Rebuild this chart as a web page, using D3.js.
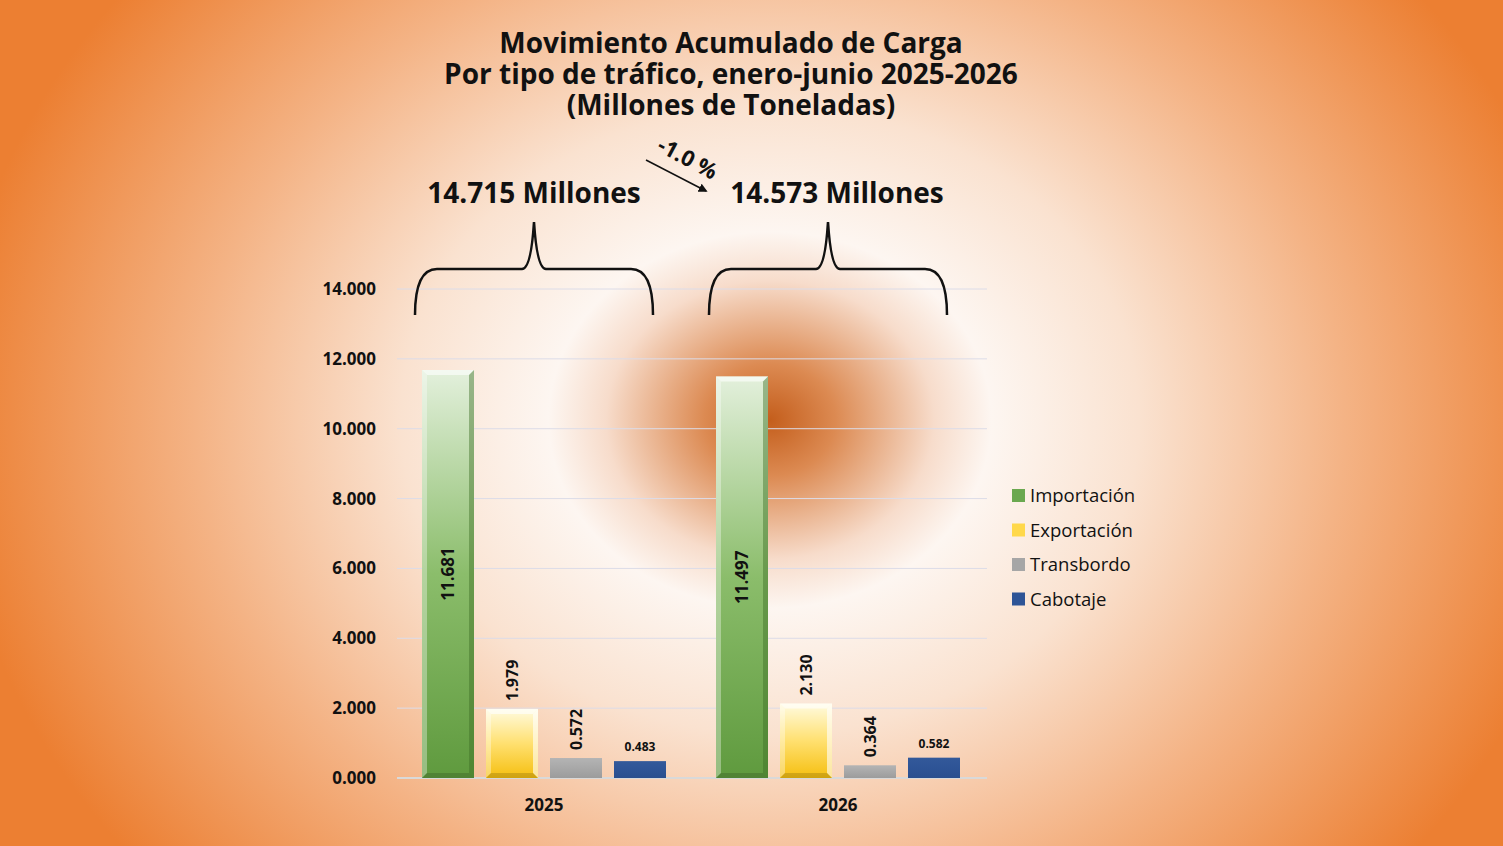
<!DOCTYPE html>
<html><head><meta charset="utf-8">
<script src="https://cdn.jsdelivr.net/npm/d3@7"></script>
<style>body{margin:0;overflow:hidden}svg{display:block;font-family:"Open Sans",sans-serif}</style>
</head><body><svg id="c" width="1503" height="846"></svg>
<script>
const years = ["2025","2026"];
const series = ["Importación","Exportación","Transbordo","Cabotaje"];
const imp = [11.681, 11.497];
const exp = [1.979, 2.130];
const tra = [0.572, 0.364];
const cab = [0.483, 0.582];
const totals = ["14.715 Millones","14.573 Millones"];
const change = "-1.0 %";
const yTicks = [0,2,4,6,8,10,12,14];
const values = [imp, exp, tra, cab];

const svg = d3.select("#c");
const defs = svg.append("defs");
const bg = defs.append("radialGradient").attr("id","bg").attr("gradientUnits","userSpaceOnUse")
  .attr("cx",770).attr("cy",420).attr("r",820).attr("gradientTransform","translate(770,420) scale(1,0.85) translate(-770,-420)");
[[0,"#c45e1c"],[0.08,"#dc8a52"],[0.2,"#f7dccb"],[0.27,"#fdf6f1"],[0.45,"#fae2d0"],[0.7,"#f4b385"],[1,"#ec7f32"]]
  .forEach(s=>bg.append("stop").attr("offset",s[0]).attr("stop-color",s[1]));
svg.append("rect").attr("width",1503).attr("height",846).attr("fill","url(#bg)");

const colors = [["#e3f0dc","#8bbd6b","#5f9a3e"],["#fffbe0","#ffe070","#f5bf10"],["#b4b4b4","#a8a8a8","#9c9c9c"],["#33599a","#2e5496","#2a4f8e"]];
colors.forEach((c,i)=>{
  const g=defs.append("linearGradient").attr("id","g"+i).attr("x1",0).attr("y1",0).attr("x2",0).attr("y2",1);
  g.append("stop").attr("offset",0).attr("stop-color",c[0]);
  g.append("stop").attr("offset",0.5).attr("stop-color",c[1]);
  g.append("stop").attr("offset",1).attr("stop-color",c[2]);
});

const y = d3.scaleLinear().domain([0,14]).range([778,289]);
const x0 = d3.scaleBand().domain(years).range([397,985]).padding(0);
const x1 = d3.scaleBand().domain(series).range([19,275]).paddingInner(0.1875).paddingOuter(0.09375);

const grid = svg.append("g");
yTicks.forEach(t=>grid.append("line").attr("x1",397).attr("x2",987).attr("y1",y(t)).attr("y2",y(t))
  .attr("stroke",t===0?"#d9d9d9":"#dcdce8").attr("stroke-width",t===0?2:1));
const ax = svg.append("g").attr("transform","translate(379,0)").call(d3.axisLeft(y).tickValues(yTicks).tickFormat(d3.format(".3f")).tickSize(0));
ax.select(".domain").remove();
ax.selectAll("text").attr("font-size",17).attr("font-weight","bold").attr("fill","#111").attr("font-family","Open Sans");
const xa = svg.append("g").attr("transform","translate(0,796)").call(d3.axisBottom(x0).tickSize(0));
xa.select(".domain").remove();
xa.selectAll("text").attr("font-size",17).attr("font-weight","bold").attr("fill","#111").attr("font-family","Open Sans");

years.forEach((yr,yi)=>{
  series.forEach((s,si)=>{
    const v=values[si][yi], bx=x0(yr)+x1(s), bw=x1.bandwidth(), top=y(v), bot=y(0), h=bot-top;
    const g=svg.append("g");
    g.append("rect").attr("x",bx).attr("y",top).attr("width",bw).attr("height",h).attr("fill","url(#g"+si+")");
    if(si<2){
      const e=5;
      g.append("polygon").attr("points",`${bx},${top} ${bx+bw},${top} ${bx+bw-e},${top+e} ${bx+e},${top+e}`).attr("fill","#fff").attr("opacity",0.6);
      g.append("polygon").attr("points",`${bx},${top} ${bx+e},${top+e} ${bx+e},${bot-e} ${bx},${bot}`).attr("fill","#fff").attr("opacity",0.35);
      g.append("polygon").attr("points",`${bx+bw},${top} ${bx+bw-e},${top+e} ${bx+bw-e},${bot-e} ${bx+bw},${bot}`).attr("fill",si===0?"#3f6e26":"#fff").attr("opacity",si===0?0.45:0.6);
      g.append("polygon").attr("points",`${bx},${bot} ${bx+e},${bot-e} ${bx+bw-e},${bot-e} ${bx+bw},${bot}`).attr("fill","#000").attr("opacity",0.15);
    }
    const cx=bx+bw/2, lab=d3.format(".3f")(v);
    if(si===0){
      svg.append("text").attr("transform",`translate(${cx+6},${(top+bot)/2}) rotate(-90)`).attr("text-anchor","middle")
        .attr("font-size",17).attr("font-weight","bold").attr("fill","#111").text(lab);
    } else if(si<3){
      svg.append("text").attr("transform",`translate(${cx+6},${top-8}) rotate(-90)`).attr("text-anchor","start")
        .attr("font-size",16).attr("font-weight","bold").attr("fill","#111").text(lab);
    } else {
      svg.append("text").attr("x",cx).attr("y",top-10).attr("text-anchor","middle")
        .attr("font-size",12).attr("font-weight","bold").attr("fill","#111").text(lab);
    }
  });
  // brace
  const L=x0(yr)+18, R=L+238, M=(L+R)/2;
  const p=d3.path();
  p.moveTo(L,315); p.quadraticCurveTo(L,269,L+22,269); p.lineTo(M-12,269);
  p.quadraticCurveTo(M-3,269,M,222); p.quadraticCurveTo(M+3,269,M+12,269);
  p.lineTo(R-22,269); p.quadraticCurveTo(R,269,R,315);
  svg.append("path").attr("d",p.toString()).attr("fill","none").attr("stroke","#111").attr("stroke-width",2.5);
  svg.append("text").attr("x",M).attr("dx",yi*9).attr("y",203).attr("text-anchor","middle").attr("font-size",28).attr("font-weight","bold").attr("fill","#111").text(totals[yi]);
});

// change arrow
defs.append("marker").attr("id","ar").attr("viewBox","0 0 10 10").attr("refX",8).attr("refY",5).attr("markerWidth",6).attr("markerHeight",6).attr("orient","auto")
  .append("path").attr("d","M0,0L10,5L0,10z").attr("fill","#111");
svg.append("line").attr("x1",646).attr("y1",160).attr("x2",706).attr("y2",191).attr("stroke","#111").attr("stroke-width",1.5).attr("marker-end","url(#ar)");
svg.append("text").attr("transform","translate(684,165) rotate(28)").attr("text-anchor","middle").attr("font-size",22).attr("font-weight","bold").attr("fill","#111").text(change);

// title
["Movimiento Acumulado de Carga","Por tipo de tráfico, enero-junio 2025-2026","(Millones de Toneladas)"].forEach((t,i)=>
  svg.append("text").attr("x",731).attr("y",53+i*31).attr("text-anchor","middle").attr("font-size",28).attr("font-weight","bold").attr("fill","#111").text(t));

// legend
series.forEach((s,i)=>{
  const ly=496+i*34.5;
  svg.append("rect").attr("x",1012).attr("y",ly-7).attr("width",13).attr("height",13).attr("fill",["#6aa84f","#ffd84a","#a6a6a6","#2e5496"][i]);
  svg.append("text").attr("x",1030).attr("y",ly+6).attr("font-size",18.5).attr("fill","#111").text(s);
});
</script></body></html>
